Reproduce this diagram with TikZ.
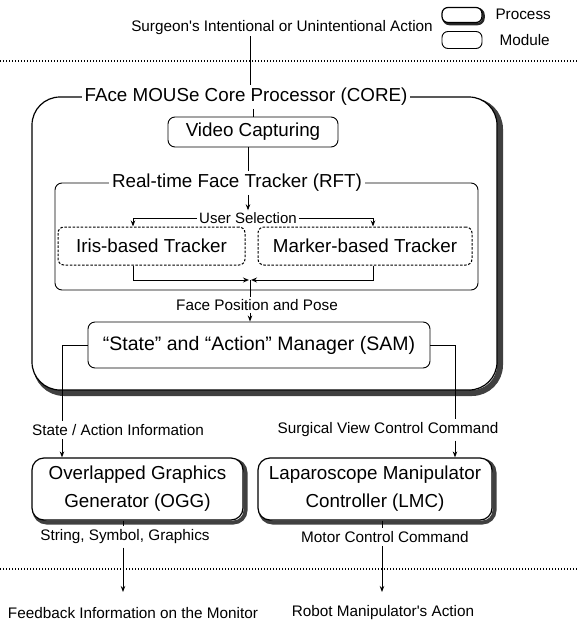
\documentclass[tikz,border=0pt]{standalone}
\usepackage{fontspec}
\setmainfont{Liberation Sans}
\usetikzlibrary{arrows.meta}
\begin{document}
\begin{tikzpicture}[x=1pt,y=-1pt,
  big/.style={font=\fontsize{18.8}{28}\selectfont},
  bigger/.style={font=\fontsize{19.5}{23}\selectfont},
  small/.style={font=\fontsize{15.3}{17}\selectfont},
  tiny/.style={font=\fontsize{15}{17}\selectfont},
  wire/.style={line width=0.9pt},
  arr/.style={wire,-{Stealth[length=6pt,width=4.5pt]}},
  oarr/.style={wire,-{Stealth[open,length=6pt,width=5pt]}},
  sep/.style={line width=1.4pt,dash pattern=on 1.4pt off 1.6pt},
  shadowline/.style={draw=black!75,line width=6pt},
  shbox/.style={draw,line width=1.2pt,fill=white},
  thinbox/.style={draw,line width=0.9pt,fill=white,rounded corners=7pt},
  dbox/.style={draw,line width=1pt,dash pattern=on 2.5pt off 1.6pt,rounded corners=6pt},
  ttl/.style={fill=white,inner sep=3pt}]
\useasboundingbox (0,0) rectangle (577,627);

% legend
\draw[black!85,line width=2.5pt,rounded corners=6pt] (443.5,9) rectangle (483.5,24);
\node[draw,line width=1.2pt,fill=white,rounded corners=6pt,minimum width=40,minimum height=15] (lp) at (462,15) {};
\node[small,anchor=west] (lpt) at (492,14) {Process};
\node[draw,line width=0.9pt,rounded corners=6pt,minimum width=40,minimum height=17] (lm) at (462,40) {};
\node[small,anchor=west] (lmt) at (496,40) {Module};

% top
\node[small] (surg) at (282,28) {Surgeon\textquotesingle s Intentional or Unintentional Action};
\coordinate (sl) at (250,36);
\draw[sep] (0,61) -- (577,61);

% CORE
\draw[shadowline,rounded corners=28pt] (36,101) rectangle (500,393);
\path[draw,line width=1.2pt,fill=white,rounded corners=28pt] (32,97) rectangle (497,390);
\node[inner sep=0pt,minimum width=465,minimum height=293] (core) at (264.5,243.5) {};
\node[big,ttl] (coret) at (246,97) {FAce MOUSe Core Processor (CORE)};
\draw[wire] (sl) -- (sl |- coret.north);

\node[thinbox,big,minimum width=170,minimum height=30,inner sep=2pt] (video) at (253,132) {Video Capturing};
\draw[wire] (coret.south -| video) -- (video.north);

% RFT
\node[thinbox,minimum width=423,minimum height=107] (rft) at (266.5,236.5) {};
\node[big,ttl] (rftt) at (237,183) {Real-time Face Tracker (RFT)};
\draw[wire] (video.south -| 248,0) -- (rftt.north -| 248,0);
\node[tiny,fill=white,inner sep=2pt] (usel) at (248,218) {User Selection};
\draw[arr] (rftt.south -| usel) -- (usel.north);

\node[dbox,big,minimum width=187,minimum height=38] (iris) at (151.5,246) {Iris-based Tracker};
\node[dbox,big,minimum width=214,minimum height=38] (mark) at (365,246) {Marker-based Tracker};
\coordinate (il) at (133,0);
\coordinate (mr) at (373,0);
\draw[arr] (usel.west) -| (iris.north -| il);
\draw[arr] (usel.east) -| (mark.north -| mr);
\coordinate (mg) at (250,280);
\draw[oarr] (iris.south -| il) |- ([xshift=-1pt]mg);
\draw[oarr] (mark.south -| mr) |- ([xshift=1pt]mg);

\node[small,fill=white,inner sep=2pt] (fpp) at (257,305) {Face Position and Pose};
\draw[wire] (mg) -- (mg |- fpp.north);

\node[thinbox,bigger,minimum width=342,minimum height=46] (sam) at (259,345) {``State'' and ``Action'' Manager (SAM)};
\draw[arr] (mg |- fpp.south) -- (mg |- sam.north);

% outputs of SAM
\node[small] (sai) at (118,430) {State / Action Information};
\node[small] (svc) at (388,430) {Surgical View Control Command};
\coordinate (lx) at (62,0);
\coordinate (rx) at (455,0);
\draw[wire] (sam.west) -| (sai.north -| lx);
\draw[wire] (sam.east) -| (svc.north -| rx);

\draw[shadowline,line width=4pt,rounded corners=12pt] (34.5,460.5) rectangle (245.5,522.5);
\node[shbox,rounded corners=12pt,big,minimum width=211,minimum height=62,align=center,inner sep=1pt] (ogg) at (137.5,489) {Overlapped Graphics\\Generator (OGG)};
\draw[shadowline,line width=4pt,rounded corners=12pt] (260.5,460.5) rectangle (494.5,522.5);
\node[shbox,rounded corners=12pt,big,minimum width=234,minimum height=62,align=center,inner sep=1pt] (lmc) at (375,489) {Laparoscope Manipulator\\Controller (LMC)};
\draw[arr] (sai.south -| lx) -- (ogg.north -| lx);
\draw[arr] (svc.south -| rx) -- (lmc.north -| rx);

\node[small] (ssg) at (125,537) {String, Symbol, Graphics};
\node[small] (mcc) at (385,537) {Motor Control Command};
\draw[sep] (0,569) -- (577,569);
\node[small] (fb) at (133,613) {Feedback Information on the Monitor};
\node[small] (rob) at (383,613) {Robot Manipulator\textquotesingle s Action};
\coordinate (ox) at (123,0);
\coordinate (mx) at (382,0);
\draw[wire] (ogg.south -| ox) -- (ssg.north -| ox);
\draw[arr] (ssg.south -| ox) -- (ox |- 0,592);
\draw[wire] (lmc.south -| mx) -- (mcc.north -| mx);
\draw[arr] (mcc.south -| mx) -- (mx |- 0,592);
\end{tikzpicture}
\end{document}
